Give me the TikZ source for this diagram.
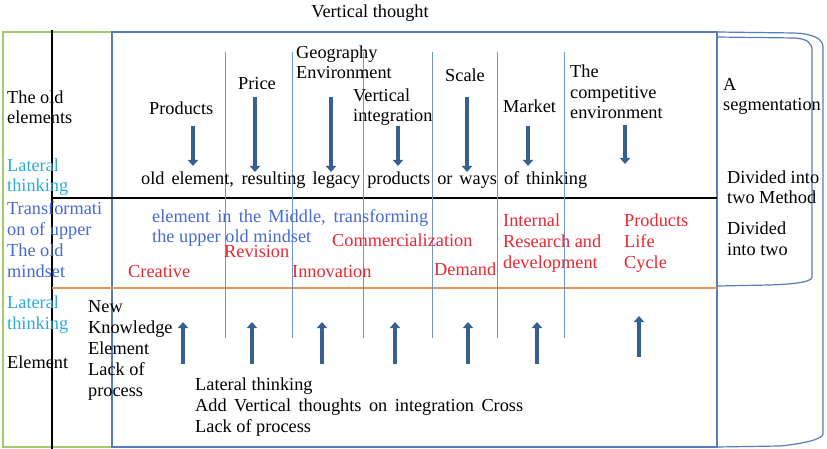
\documentclass[tikz,border=0pt]{standalone}
\usepackage{fontspec}
\setmainfont{Liberation Serif}
\usetikzlibrary{arrows.meta}
\definecolor{arrblue}{RGB}{55,96,146}
\definecolor{thinblue}{RGB}{110,150,205}
\definecolor{boxblue}{RGB}{85,125,190}
\definecolor{boxgreen}{RGB}{165,200,105}
\definecolor{lineorange}{RGB}{228,150,90}
\definecolor{txtcyan}{RGB}{45,170,220}
\definecolor{txtblue}{RGB}{70,105,210}
\definecolor{txtred}{RGB}{232,40,50}
\tikzset{
  lbl/.style={anchor=base west, inner sep=0pt, align=left, font=\fontsize{18.3}{20.8}\selectfont},
  redlbl/.style={lbl, text=txtred},
  cyanlbl/.style={lbl, text=txtcyan},
  bluelbl/.style={lbl, text=txtblue},
  divline/.style={thinblue, line width=1pt},
  downarr/.style={arrblue, line width=4.5pt, -{Triangle[width=10pt,length=6pt]}},
}
\begin{document}
\begin{tikzpicture}[x=1pt,y=-1pt]
\useasboundingbox (0,0) rectangle (827,449);
% frames
\draw[boxgreen, line width=2pt] (112,32) -- (3,32) -- (3,447) -- (112,447);
\draw[boxblue, line width=1.4pt] (112,32) rectangle (717,447);
\draw[black, line width=1.3pt] (52,30) -- (52,449);
\draw[black, line width=1.8pt] (52,198) -- (717,198);
\draw[lineorange, line width=2pt] (52,288) -- (717,288);
% right scroll shape
\draw[boxblue, line width=1.2pt] (717,32) -- (795,33) .. controls (812,34) and (822,38) .. (823,46) -- (823,434) .. controls (822,440) and (800,444) .. (780,446) -- (717,447);
\draw[boxblue, line width=1.2pt] (717,37) -- (795,38) .. controls (806,39) and (812,42) .. (812,50) -- (812,277) .. controls (812,282) and (795,284) .. (770,285) -- (717,286);
% thin vertical lines
\foreach \x in {225,292,363,432,497,564} \draw[divline] (\x,52) -- (\x,338);
% down arrows
\draw[downarr] (193,126) -- (193,166);
\draw[downarr] (255,97) -- (255,172);
\draw[downarr] (331,97) -- (331,172);
\draw[downarr] (398,126) -- (398,166);
\draw[downarr] (467,97) -- (467,172);
\draw[downarr] (528,126) -- (528,166);
\draw[downarr] (625,125) -- (625,164);
% up arrows
\foreach \x in {183,252,322,395,468,537} \draw[downarr] (\x,364) -- (\x,322);
\draw[downarr] (639,357) -- (639,316);
% texts (multi-line nodes are placed by the baseline of their last line)
\node[lbl, anchor=base] (title) at (370,18) {Vertical thought};
\node[lbl] (oldel) at (7,124) {The old\\elements};
\node[cyanlbl] (lat1) at (7,192) {Lateral\\thinking};
\node[bluelbl] (transf) at (7,277) {Transformati\\on of upper\\The old\\mindset};
\node[cyanlbl] (lat2) at (7,329) {Lateral\\thinking};
\node[lbl] (elem) at (7,368) {Element};
\node[lbl] (newk) at (88,396) {New\\Knowledge\\Element\\Lack of\\process};
\node[lbl] (latbot) at (195,432) {Lateral thinking\\\makebox[328pt][s]{Add Vertical thoughts on integration Cross}\\Lack of process};
\node[lbl] (prod) at (149,115) {Products};
\node[lbl] (price) at (238,90) {Price};
\node[lbl] (geo) at (296,79) {Geography\\Environment};
\node[lbl] (vint) at (353,122) {Vertical\\integration};
\node[lbl] (scale) at (445,82) {Scale};
\node[lbl] (market) at (503,113) {Market};
\node[lbl] (comp) at (570,119) {The\\competitive\\environment};
\node[lbl] (seg) at (723,111) {A\\segmentation};
\node[lbl] (oldline) at (141,185) {\makebox[446pt][s]{old element, resulting legacy products or ways of thinking}};
\node[lbl] (div1) at (727,204) {Divided into\\two Method};
\node[lbl] (div2) at (727,255) {Divided\\into two};
\node[bluelbl] (mid) at (152,243) {\makebox[276pt][s]{element in the Middle, transforming}\\the upper old mindset};
\node[redlbl] (comm) at (332,246) {Commercialization};
\node[redlbl] (rev) at (224,258) {Revision};
\node[redlbl] (creat) at (128,277) {Creative};
\node[redlbl] (innov) at (292,277) {Innovation};
\node[redlbl] (dem) at (434,275) {Demand};
\node[redlbl] (intrd) at (503,268) {Internal\\Research and\\development};
\node[redlbl] (plc) at (624,268) {Products\\Life\\Cycle};
\end{tikzpicture}
\end{document}
